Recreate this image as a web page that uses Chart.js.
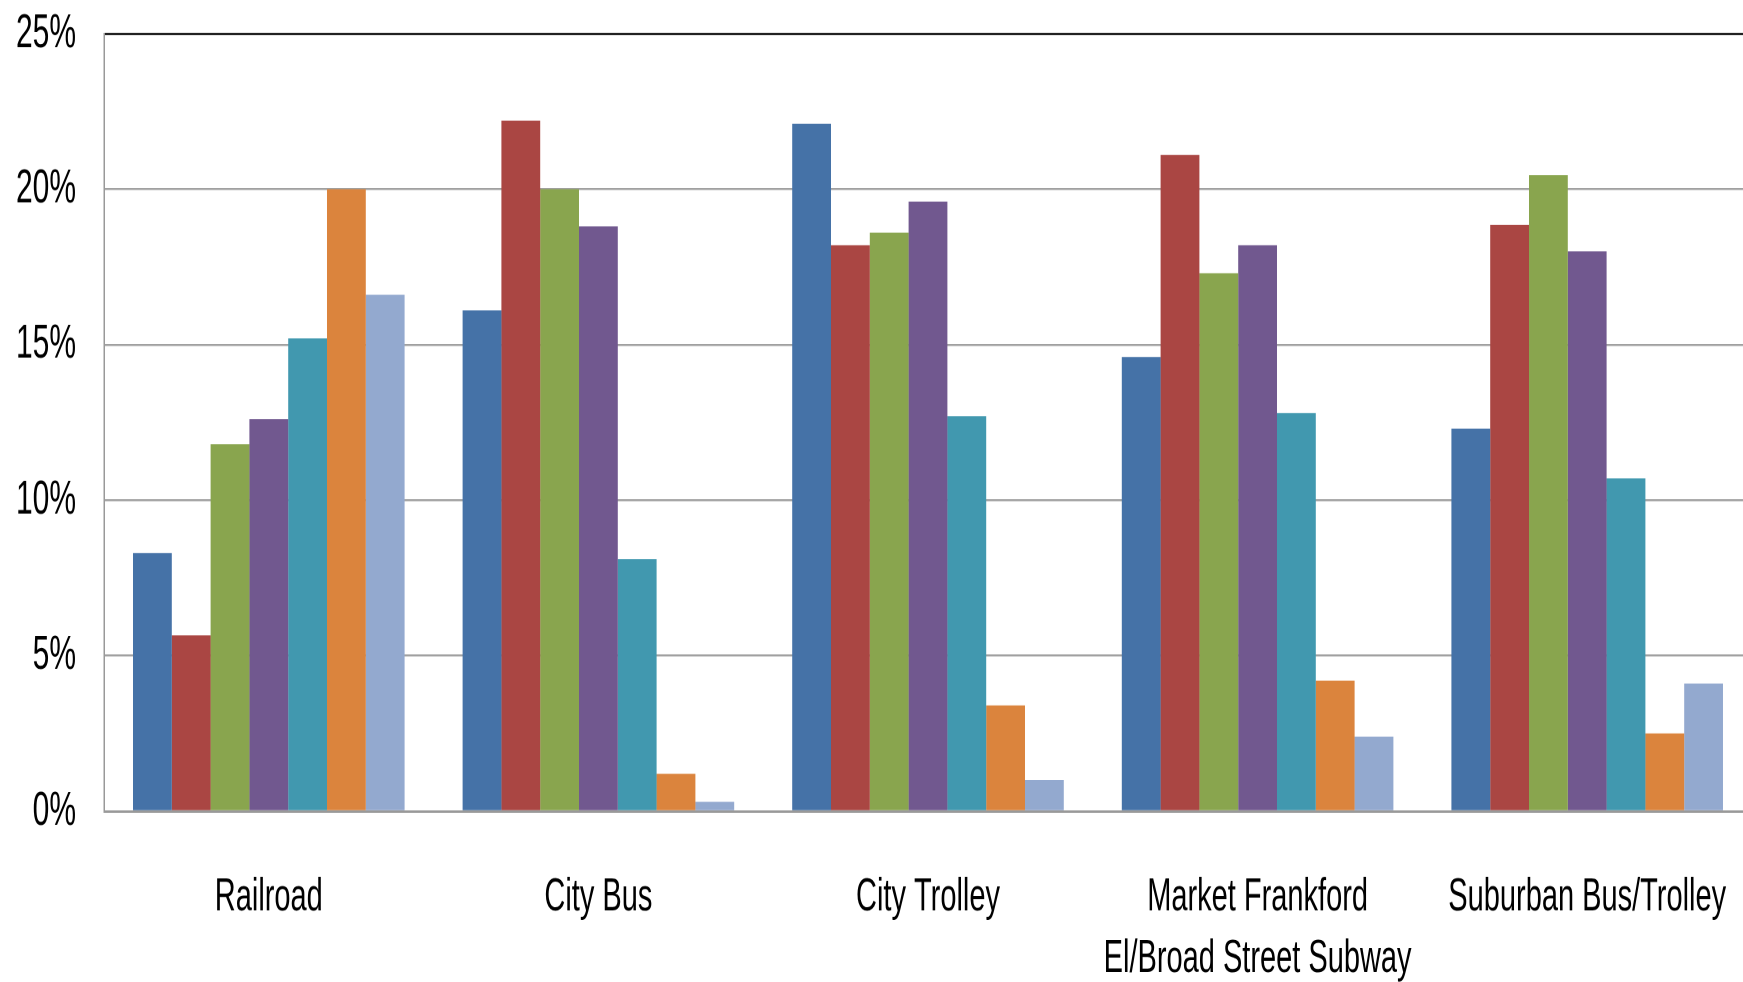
<!DOCTYPE html>
<html>
<head>
<meta charset="utf-8">
<script src="https://cdn.jsdelivr.net/npm/chart.js@4"></script>
<style>
  html, body { margin: 0; padding: 0; background: #fff; overflow: hidden; }
  #wrap { position: absolute; left: 0; top: 0; width: 1760px; height: 614px; transform: scaleY(1.6); transform-origin: 0 0; }
</style>
</head>
<body>
<div id="wrap"><canvas id="c"></canvas></div>
<script>
const categories = ["Railroad", "City Bus", "City Trolley", ["Market Frankford", "El/Broad Street Subway"], "Suburban Bus/Trolley"];
const seriesNames = ["Group 1", "Group 2", "Group 3", "Group 4", "Group 5", "Group 6", "Group 7"];
const s1 = [8.3, 16.1, 22.1, 14.6, 12.3];
const s2 = [5.65, 22.2, 18.2, 21.1, 18.85];
const s3 = [11.8, 20.0, 18.6, 17.3, 20.45];
const s4 = [12.6, 18.8, 19.6, 18.2, 18.0];
const s5 = [15.2, 8.1, 12.7, 12.8, 10.7];
const s6 = [20.0, 1.2, 3.4, 4.2, 2.5];
const s7 = [16.6, 0.3, 1.0, 2.4, 4.1];
const yTicks = [0, 5, 10, 15, 20, 25];

const colors = ["#4572A7", "#AA4643", "#89A54E", "#71588F", "#4198AF", "#DB843D", "#93A9CF"];
const seriesValues = [s1, s2, s3, s4, s5, s6, s7];

const FONT = "'Liberation Sans', Arial, sans-serif";

new Chart(document.getElementById('c'), {
  type: 'bar',
  data: {
    labels: categories,
    datasets: seriesValues.map((v, i) => ({
      label: seriesNames[i],
      data: v,
      backgroundColor: colors[i],
      borderWidth: 0,
      barPercentage: 1,
      categoryPercentage: 0.824
    }))
  },
  options: {
    responsive: true,
    maintainAspectRatio: false,
    animation: false,
    devicePixelRatio: 2,
    layout: { padding: { top: 21, right: 8, left: 0, bottom: 0 } },
    plugins: { legend: { display: false }, tooltip: { enabled: false }, title: { display: false } },
    scales: {
      x: {
        grid: { display: false, drawTicks: false },
        border: { display: true, color: '#999', width: 1.5 },
        ticks: {
          color: '#000',
          font: { family: FONT, size: 29, lineHeight: 1.32 },
          padding: 35,
          maxRotation: 0,
          autoSkip: false
        },
        afterFit: (s) => { s.height = 107; s.paddingLeft = 0; s.paddingRight = 0; }
      },
      y: {
        min: 0, max: 25,
        afterBuildTicks: (s) => { s.ticks = yTicks.map(v => ({ value: v })); },
        grid: {
          drawTicks: false,
          color: (ctx) => (ctx.tick && ctx.tick.value === 25) ? '#222' : '#a0a0a0',
          lineWidth: (ctx) => (ctx.tick && ctx.tick.value === 25) ? 1.5 : 1.2
        },
        border: { display: true, color: '#999', width: 1.5 },
        ticks: {
          color: '#000',
          font: { family: FONT, size: 30 },
          padding: 28,
          callback: (v) => v + '%'
        },
        afterFit: (s) => { s.width = 104; s.paddingTop = 0; s.paddingBottom = 0; }
      }
    }
  }
});
</script>
</body>
</html>
